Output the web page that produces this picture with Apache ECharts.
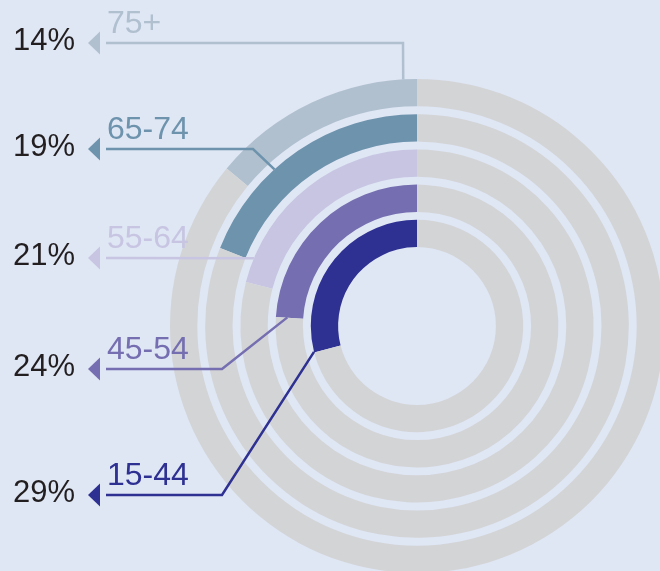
<!DOCTYPE html>
<html>
<head>
<meta charset="utf-8">
<script src="https://cdn.jsdelivr.net/npm/echarts@6/dist/echarts.min.js"></script>
<style>
  html, body { margin: 0; padding: 0; background: #dfe6f4; }
  #chart { width: 660px; height: 571px; }
</style>
</head>
<body>
<div id="chart"></div>
<script>
const ageGroups = ["75+", "65-74", "55-64", "45-54", "15-44"]
const shares = [14, 19, 21, 24, 29]
const pctLabels = ["14%", "19%", "21%", "24%", "29%"]

const colors = ["#b0c0cf", "#6e93ad", "#c7c5e2", "#756eb0", "#2e3192"]
const restColor = "#d3d4d6"
const font = '"Liberation Sans", Arial, sans-serif'

// ring geometry (px)
const cx = 417, cy = 326
const ringOuter = 247, ringStep = 35.2, ringWidth = 27.3

// label rows on the left and the leader line routes
const rowY = [43, 149, 258, 369, 495]
const elbows = [[403, 43], [253, 149], null, [222, 369], [222, 495]]
// where each leader touches its arc: degrees from 12 o'clock (counter-clockwise), position across the ring
const attach = [[3.2, 1], [42.3, 1], [67.4, 1], [86.2, 0.58], [104.1, 1]]

const ringRadius = (i) => {
	const outer = ringOuter - ringStep * i
	return [outer - ringWidth, outer]
}

const series = ageGroups.map((g, i) => ({
	type: "pie",
	name: g,
	center: [cx, cy],
	radius: ringRadius(i),
	startAngle: 90,
	clockwise: false,
	silent: true,
	z: 1,
	label: { show: false },
	labelLine: { show: false },
	itemStyle: { borderWidth: 0 },
	data: [
		{ value: shares[i], name: g, itemStyle: { color: colors[i] } },
		{ value: 100 - shares[i], name: "rest", itemStyle: { color: restColor } },
	],
}))

const graphic = []
ageGroups.forEach((g, i) => {
	const y = rowY[i]
	const [rIn, rOut] = ringRadius(i)
	const a = (attach[i][0] * Math.PI) / 180
	const r = rIn + attach[i][1] * (rOut - rIn)
	const end = [cx - r * Math.sin(a), cy - r * Math.cos(a)]
	const pts = [[106, y]]
	if (elbows[i]) pts.push(elbows[i])
	pts.push(end)

	graphic.push({
		type: "polyline",
		silent: true,
		z: 100,
		shape: { points: pts },
		style: { stroke: colors[i], lineWidth: 2.5, fill: null, lineJoin: "miter" },
	})
	graphic.push({
		type: "polygon",
		silent: true,
		z: 100,
		shape: { points: [[88, y], [100, y - 11.5], [100, y + 11.5]] },
		style: { fill: colors[i] },
	})
	graphic.push({
		type: "text",
		silent: true,
		z: 100,
		x: 13,
		y: y - 2,
		style: { text: pctLabels[i], fill: "#231f20", font: "31px " + font, textAlign: "left", textVerticalAlign: "middle" },
	})
	graphic.push({
		type: "text",
		silent: true,
		z: 100,
		x: 107,
		y: y - 19,
		style: { text: g, fill: colors[i], font: "32px " + font, textAlign: "left", textVerticalAlign: "middle" },
	})
})

const chart = echarts.init(document.getElementById("chart"), null, { renderer: "canvas" })
chart.setOption({
	backgroundColor: "#dfe6f4",
	animation: false,
	series: series,
	graphic: graphic,
})
</script>
</body>
</html>
